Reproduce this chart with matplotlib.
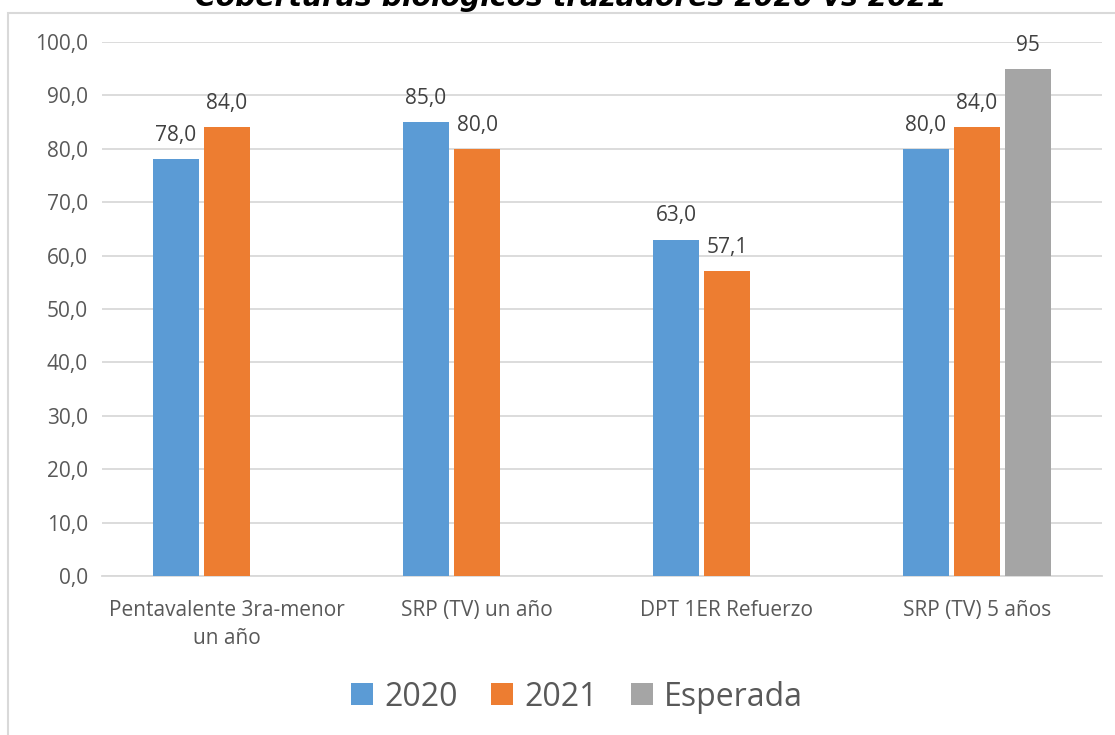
import numpy as np
import matplotlib.pyplot as plt
from matplotlib.patches import Rectangle

categories = ["Pentavalente 3ra-menor\nun año", "SRP (TV) un año", "DPT 1ER Refuerzo", "SRP (TV) 5 años"]
v2020 = [78.0, 85.0, 63.0, 80.0]
v2021 = [84.0, 80.0, 57.1, 84.0]
esperada = [None, None, None, 95]
series_names = ["2020", "2021", "Esperada"]
colors = ["#5B9BD5", "#ED7D31", "#A5A5A5"]
yticks = np.arange(0, 101, 10)

plt.rcParams['font.family'] = ['Open Sans', 'DejaVu Sans']
txt = "#595959"
fs = 15

fig = plt.figure(figsize=(11.15, 7.35), dpi=100)
ax = fig.add_axes([102/1115, 159/735, 1000/1115, 534/735])

# outer chart frame
fig.patches.append(Rectangle((8/1115, -0.1), 1.2, 1 - 12.7/735 + 0.1, transform=fig.transFigure,
                             fill=False, edgecolor="#d9d9d9", lw=1.5))

x = np.arange(len(categories))
w = 0.184
step = 0.204
for i, (vals, name, c) in enumerate(zip([v2020, v2021, esperada], series_names, colors)):
    xs = [xi + (i - 1) * step for xi, v in zip(x, vals) if v is not None]
    ys = [v for v in vals if v is not None]
    bars = ax.bar(xs, ys, width=w, color=c, label=name, zorder=3)
    for b, v in zip(bars, ys):
        lab = f"{v:.1f}".replace(".", ",") if name != "Esperada" else f"{v:.0f}"
        ax.text(b.get_x() + b.get_width() / 2, v + 3.4, lab, ha="center", va="baseline",
                fontsize=fs, color="#404040")

ax.set_xlim(-0.5, len(categories) - 0.5)
ax.set_ylim(0, 100)
ax.set_yticks(yticks)
ax.set_yticklabels([f"{t:.1f}".replace(".", ",") for t in yticks], fontsize=fs, color=txt)
ax.set_xticks(x)
ax.set_xticklabels(categories, fontsize=fs, color=txt, linespacing=1.45)
ax.tick_params(length=0, pad=10)
ax.tick_params(axis="x", pad=17)
ax.grid(axis="y", color="#d9d9d9", lw=1.3, zorder=0)
for s in ["left", "right", "top"]:
    ax.spines[s].set_visible(False)
ax.spines["bottom"].set_color("#d9d9d9")
ax.spines["bottom"].set_linewidth(1.3)

fig.text(571/1115, 1 - 6/735, "Coberturas biológicos trazadores 2020 vs 2021", ha="center",
         va="baseline", fontsize=20.3, fontweight="bold", fontstyle="italic", family="DejaVu Sans")

fig.legend(loc="center", bbox_to_anchor=(577/1115, 1 - 697/735), ncol=3, frameon=False,
           fontsize=23, handlelength=0.68, handleheight=0.68, handletextpad=0.35, columnspacing=1.05,
           labelcolor=txt)

fig.savefig("out.png", dpi=100)
